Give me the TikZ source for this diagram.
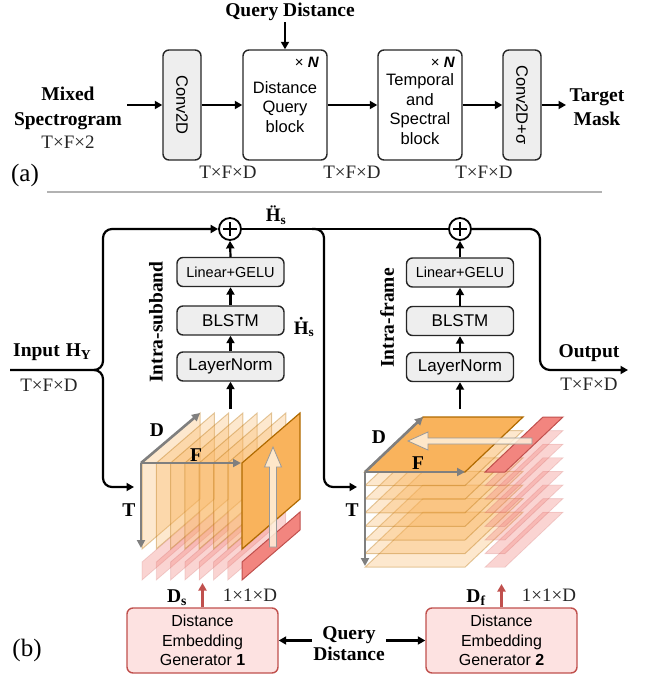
\documentclass[tikz,border=0pt]{standalone}
\usepackage{fontspec}
\setmainfont{Liberation Serif}
\setsansfont{Liberation Sans}
\usepackage{graphicx}
\usetikzlibrary{arrows.meta}
\newcommand{\fsz}[2]{\fontsize{#1}{#2}\selectfont}
\definecolor{boxgray}{HTML}{EEEEEE}
\definecolor{org}{HTML}{F9B35C}
\definecolor{orgdark}{HTML}{B06A00}
\definecolor{redd}{HTML}{C0504D}
\definecolor{redstrip}{HTML}{F2857F}
\definecolor{pinkbox}{HTML}{FDE2E1}
\definecolor{axisgray}{HTML}{7F7F7F}
\definecolor{cream}{HTML}{FFF1DD}
\begin{document}
\begin{tikzpicture}[x=1pt,y=-1pt,
  blk/.style={draw=black!85, line width=1.4pt, rounded corners=6pt, inner sep=0pt, align=center, font=\sffamily\fsz{16.5}{19.5}},
  gblk/.style={blk, fill=boxgray},
  sbox/.style={gblk, minimum width=107pt, minimum height=29pt},
  pblk/.style={draw=redd, fill=pinkbox, line width=1.4pt, rounded corners=6pt, inner sep=0pt, align=center, font=\sffamily\fsz{16}{19.5}, minimum width=151pt, minimum height=65pt},
  arr/.style={line width=2.2pt, -{Triangle[length=7.5pt,width=8pt]}},
  rarr/.style={draw=redd, line width=2.4pt, -{Triangle[length=7.5pt,width=8pt]}},
  ln/.style={line width=2.2pt},
  axis/.style={draw=axisgray, line width=2.6pt, -{Triangle[length=8pt,width=8pt]}},
  lbl/.style={font=\bfseries\fsz{19.5}{24}, inner sep=1pt},
  dim/.style={font=\fsz{19}{22}, text=black!85, inner sep=1pt},
  pale/.style={fill=org, fill opacity=0.3, draw=orgdark, draw opacity=0.35, line width=1pt},
  hil/.style={fill=org, draw=orgdark, line width=1.2pt},
  rpale/.style={fill=redstrip, fill opacity=0.35, draw=redd, draw opacity=0.2, line width=0.8pt},
  rhil/.style={fill=redstrip, draw=redd, line width=1pt},
  fat/.style={fill=cream, fill opacity=0.85, draw=black!40, line width=0.8pt},
  plus/.style={circle, draw, line width=1.8pt, minimum size=22pt, inner sep=0pt}
]
\useasboundingbox (0,0) rectangle (652,677);

% ---------------- (a) ----------------
\node[lbl, align=center, font=\bfseries\fsz{19.5}{25}] (ms) at (68,108) {Mixed\\Spectrogram};
\node[dim] (msd) at (68,142) {T×F×2};
\coordinate (msout) at (127,105);
\node[gblk, minimum width=38pt, minimum height=110pt] (cv1) at (182,105) {\rotatebox{-90}{Conv2D}};
\node[blk, minimum width=84pt, minimum height=110pt] (dq) at (285,105) {};
\node[font=\sffamily\fsz{16.5}{19.5}, align=center] (dqt) at (285,107) {Distance\\Query\\block};
\node[font=\sffamily\fsz{15}{18}] (dqn) at (307,62) {× \textbf{\textit{N}}};
\node[blk, minimum width=84pt, minimum height=110pt] (ts) at (420,105) {};
\node[font=\sffamily\fsz{16.5}{19.5}, align=center] (tst) at (420,109) {Temporal\\and\\Spectral\\block};
\node[font=\sffamily\fsz{15}{18}] (tsn) at (443,62) {× \textbf{\textit{N}}};
\node[gblk, minimum width=38pt, minimum height=110pt] (cv2) at (522,105) {\rotatebox{-90}{Conv2D+σ}};
\node[lbl, align=center, font=\bfseries\fsz{19.5}{24}] (tm) at (597,107) {Target\\Mask};
\coordinate (tmin) at (566,105);
\node[lbl] (qtop) at (290,12) {Query Distance};

\draw[arr] (msout) -- (cv1.west);
\draw[arr] (cv1.east) -- (dq.west);
\draw[arr] (dq.east) -- (ts.west);
\draw[arr] (ts.east) -- (cv2.west);
\draw[arr] (cv2.east) -- (tmin);
\draw[arr] (qtop.south -| dq.north) -- (dq.north);

\node[dim] (d1) at (228,172) {T×F×D};
\node[dim] (d2) at (352,172) {T×F×D};
\node[dim] (d3) at (484,172) {T×F×D};
\node[font=\fsz{25}{30}] (la) at (25,175) {(a)};

\draw[black!30, line width=1.5pt] (47,192) -- (602,192);

% ---------------- (b) ----------------
\node[plus] (p1) at (230,229) {};
\draw[line width=1.6pt, shift={(p1.center)}] (-7,0) -- (7,0) (0,-7) -- (0,7);
\node[plus] (p2) at (460,229) {};
\draw[line width=1.6pt, shift={(p2.center)}] (-7,0) -- (7,0) (0,-7) -- (0,7);

\node[sbox, font=\sffamily\fsz{14.5}{17}] (lg1) at (230.5,272) {Linear+GELU};
\node[sbox, font=\sffamily\fsz{17}{20}] (bl1) at (230.5,320.5) {BLSTM};
\node[sbox, font=\sffamily\fsz{17}{20}] (ln1) at (230.5,366.5) {LayerNorm};
\node[sbox, font=\sffamily\fsz{14.5}{17}] (lg2) at (460,272.5) {Linear+GELU};
\node[sbox, font=\sffamily\fsz{17}{20}] (bl2) at (460,321) {BLSTM};
\node[sbox, font=\sffamily\fsz{17}{20}] (ln2) at (460,367) {LayerNorm};

\node[lbl, rotate=90] (is1) at (156,322) {Intra-subband};
\node[lbl, rotate=90] (if2) at (387,318) {Intra-frame};

\node[font=\bfseries\fsz{19}{22}, inner sep=0pt] (hdd) at (276,215) {\accent"A8 H\textsubscript{s}};
\node[font=\bfseries\fsz{19}{22}, inner sep=0pt] (hd) at (304,327) {\accent"2D9 H\textsubscript{s}};

\node[lbl, anchor=base west] (inl) at (12,356) {Input\hspace{6pt}H\textsubscript{Y}};
\node[dim] (ind) at (49,385) {T×F×D};
\node[lbl, anchor=base] (outl) at (589,357) {Output};
\node[dim] (outd) at (589,384) {T×F×D};

\coordinate (inp) at (10,370);
\coordinate (c1in) at (134,487);
\coordinate (c2in) at (357,487);
\coordinate (outend) at (628,370);
\coordinate (c1top) at (230.5,409);
\coordinate (c2top) at (460,409);

% connectors
\draw[arr, rounded corners=9pt] (inp) -- (103,370) -- (103,229) -- (p1.west);
\draw[arr, rounded corners=9pt] (95,370) -- (103,370) -- (103,487) -- (c1in);
\draw[ln] (p1.east) -- (p2.west);
\draw[arr, rounded corners=9pt] (312,229) -- (324,229) -- (324,487) -- (c2in);
\draw[arr, rounded corners=10pt] (p2.east) -- (540,229) -- (540,370) -- (outend);

\draw[arr] (c1top) -- (ln1.south);
\draw[arr] (ln1.north) -- (bl1.south);
\draw[arr] (bl1.north) -- (lg1.south);
\draw[arr] (lg1.north) -- (p1.south);
\draw[arr] (c2top) -- (ln2.south);
\draw[arr] (ln2.north) -- (bl2.south);
\draw[arr] (bl2.north) -- (lg2.south);
\draw[arr] (lg2.north) -- (p2.south);

% ---- cube 1 (intra-subband) ----
\foreach \k in {0,...,6}{
  \pgfmathsetmacro\xk{142+14.3*\k}
  \path[rpale] (\xk,562) -- ++(58,-50) -- ++(0,18) -- ++(-58,50) -- cycle;
}
\path[rhil] (242,562) -- ++(58,-50) -- ++(0,18) -- ++(-58,50) -- cycle;
\foreach \k in {0,...,6}{
  \pgfmathsetmacro\xk{142+14.3*\k}
  \path[pale] (\xk,463) -- ++(58,-50) -- ++(0,86) -- ++(-58,50) -- cycle;
}
\path[hil] (242,463) -- ++(58,-50) -- ++(0,86) -- ++(-58,50) -- cycle;
\path[fat] (269.5,547) -- (269.5,467) -- (264.5,467) -- (273,447) -- (281.5,467) -- (276.5,467) -- (276.5,547) -- cycle;
\coordinate (c1o) at (141,463);
\draw[axis] (c1o) -- ++(0,85);
\draw[axis] (c1o) -- ++(100,0);
\draw[axis] (c1o) -- ++(59,-50);
\node[lbl] (c1d) at (157,430) {D};
\node[lbl] (c1f) at (196,455) {F};
\node[lbl] (c1t) at (129,510) {T};

% ---- cube 2 (intra-frame) ----
\foreach \k in {7,6,...,1}{
  \pgfmathsetmacro\yk{472+13.6*\k}
  \path[rpale] (485,\yk) -- (505,\yk) -- ++(58,-55) -- ++(-20,0) -- cycle;
  \path[pale] (365,\yk) -- (465,\yk) -- ++(58,-55) -- ++(-100,0) -- cycle;
}
\path[rhil] (485,472) -- (505,472) -- ++(58,-55) -- ++(-20,0) -- cycle;
\path[hil] (365,472) -- (465,472) -- ++(58,-55) -- ++(-100,0) -- cycle;
\path[fat] (532,438) -- (428,438) -- (428,432) -- (408,441) -- (428,450) -- (428,444) -- (532,444) -- cycle;
\coordinate (c2o) at (365,472);
\draw[axis] (c2o) -- ++(0,94);
\draw[axis] (c2o) -- ++(100,0);
\draw[axis] (c2o) -- ++(58,-55);
\node[lbl] (c2d) at (379,437) {D};
\node[lbl] (c2f) at (418,463) {F};
\node[lbl] (c2t) at (352,510) {T};

% ---- distance embedding generators ----
\node[pblk] (de1) at (202.5,640.5) {Distance\\Embedding\\Generator \textbf{1}};
\node[pblk] (de2) at (501.5,640.5) {Distance\\Embedding\\Generator \textbf{2}};
\node[lbl, align=center, font=\bfseries\fsz{19.5}{21}] (qd) at (349,644) {Query\\Distance};
\draw[arr] (qd.west |- de1.east) -- (de1.east);
\draw[arr] (qd.east |- de2.west) -- (de2.west);
\coordinate (ds1end) at (202.5,583);
\coordinate (ds2end) at (501.5,584);
\draw[rarr] (de1.north) -- (ds1end);
\draw[rarr] (de2.north) -- (ds2end);
\node[lbl] (dsl) at (177,598) {D\textsubscript{s}};
\node[dim] (dsd) at (250,595) {1×1×D};
\node[lbl] (dfl) at (476,598) {D\textsubscript{f}};
\node[dim] (dfd) at (549,595) {1×1×D};
\node[font=\fsz{25}{30}] (lb) at (27,650) {(b)};
\end{tikzpicture}
\end{document}
